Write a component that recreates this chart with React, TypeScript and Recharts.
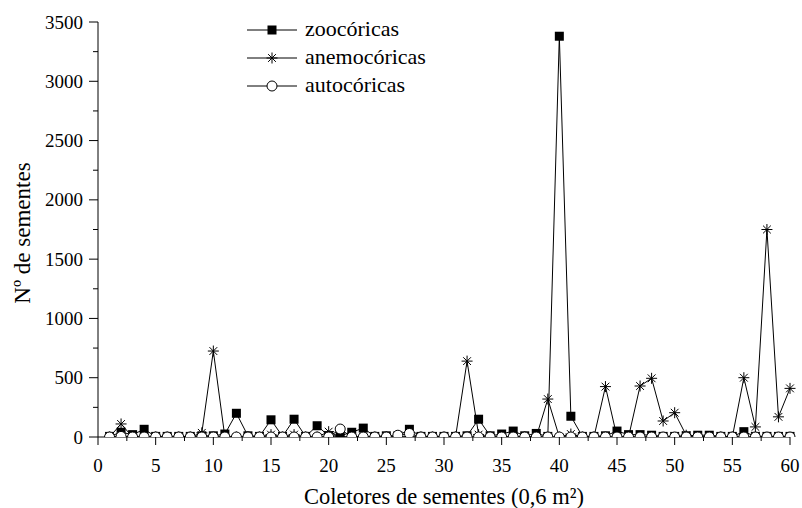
import { LineChart, Line, XAxis, YAxis, Legend } from 'recharts';

// collectors 1..60 and seeds per collector
const coletores = [
  1, 2, 3, 4, 5, 6, 7, 8, 9, 10, 11, 12, 13, 14, 15, 16, 17, 18, 19, 20,
  21, 22, 23, 24, 25, 26, 27, 28, 29, 30, 31, 32, 33, 34, 35, 36, 37, 38, 39, 40,
  41, 42, 43, 44, 45, 46, 47, 48, 49, 50, 51, 52, 53, 54, 55, 56, 57, 58, 59, 60,
];
const zoocoricas = [
  5, 40, 20, 65, 5, 5, 5, 5, 10, 10, 25, 200, 10, 5, 145, 5, 150, 5, 95, 10,
  10, 40, 75, 5, 10, 10, 65, 5, 5, 5, 5, 10, 150, 10, 25, 50, 10, 30, 5, 3380,
  175, 5, 5, 10, 50, 20, 20, 15, 5, 5, 10, 15, 15, 5, 5, 45, 5, 5, 5, 5,
];
const anemocoricas = [
  0, 110, 0, 0, 0, 0, 0, 0, 35, 725, 0, 0, 0, 0, 20, 0, 20, 0, 0, 45,
  0, 0, 0, 0, 0, 0, 0, 0, 0, 0, 0, 640, 20, 0, 0, 0, 0, 0, 320, 0,
  25, 0, 0, 425, 0, 0, 430, 495, 135, 205, 15, 0, 0, 0, 0, 500, 85, 1750, 170, 410,
];
const autocoricas = [
  0, 5, 0, 0, 0, 0, 0, 0, 0, 0, 0, 0, 0, 0, 0, 0, 0, 0, 0, 0,
  67, 0, 0, 0, 0, 15, 30, 0, 0, 0, 0, 0, 0, 0, 0, 0, 0, 0, 0, 0,
  0, 0, 0, 0, 0, 0, 0, 0, 0, 0, 0, 0, 0, 0, 0, 0, 0, 0, 0, 0,
];
const xTicks = [0, 2.5, 5, 7.5, 10, 12.5, 15, 17.5, 20, 22.5, 25, 27.5, 30, 32.5, 35, 37.5, 40, 42.5, 45, 47.5, 50, 52.5, 55, 57.5, 60];
const yTicks = [0, 250, 500, 750, 1000, 1250, 1500, 1750, 2000, 2250, 2500, 2750, 3000, 3250, 3500];
const seriesNames = ['zoocóricas', 'anemocóricas', 'autocóricas'];

const data = coletores.map((x, i) => ({
  x,
  zoo: zoocoricas[i],
  anemo: anemocoricas[i],
  auto: autocoricas[i],
}));

const FONT = '"Liberation Serif", "Times New Roman", Times, serif';

function Square({ cx, cy }: any) {
  if (cx == null || cy == null) return null;
  return <rect x={cx - 4.5} y={cy - 4.5} width={9} height={9} fill="#000" />;
}

function Star({ cx, cy }: any) {
  if (cx == null || cy == null) return null;
  const r = 5.5;
  const d = r * 0.707;
  return (
    <g stroke="#000" strokeWidth={1}>
      <line x1={cx} y1={cy - r} x2={cx} y2={cy + r} />
      <line x1={cx - r} y1={cy} x2={cx + r} y2={cy} />
      <line x1={cx - d} y1={cy - d} x2={cx + d} y2={cy + d} />
      <line x1={cx - d} y1={cy + d} x2={cx + d} y2={cy - d} />
    </g>
  );
}

function Ring({ cx, cy }: any) {
  if (cx == null || cy == null) return null;
  return <circle cx={cx} cy={cy} r={5} fill="#fff" stroke="#000" strokeWidth={1} />;
}

const markers = [Square, Star, Ring];

function XTick({ x, y, payload }: any) {
  const major = payload.value % 5 === 0;
  return (
    <g>
      <line x1={x} y1={y} x2={x} y2={y + (major ? 8 : 4)} stroke="#000" />
      {major && (
        <text x={x} y={y + 35} textAnchor="middle" fontSize={19} style={{ fontFamily: FONT }} fill="#000">
          {payload.value}
        </text>
      )}
    </g>
  );
}

function YTick({ x, y, payload }: any) {
  const major = payload.value % 500 === 0;
  return (
    <g>
      <line x1={x - (major ? 9 : 5)} y1={y} x2={x} y2={y} stroke="#000" />
      {major && (
        <text x={x - 15} y={y + 6.5} textAnchor="end" fontSize={19} style={{ fontFamily: FONT }} fill="#000">
          {payload.value}
        </text>
      )}
    </g>
  );
}

function LegendBox() {
  return (
    <svg width={220} height={90}>
      {seriesNames.map((name, i) => {
        const cy = 15 + 28 * i;
        const Mark = markers[i];
        return (
          <g key={name}>
            <line x1={7} y1={cy} x2={57} y2={cy} stroke="#000" />
            <Mark cx={32} cy={cy} />
            <text x={65} y={cy + 6} fontSize={22} style={{ fontFamily: FONT }} fill="#000">
              {name}
            </text>
          </g>
        );
      })}
    </svg>
  );
}

export default function App() {
  return (
    <div style={{ position: 'absolute', left: 0, top: 0, width: 802, height: 508, background: '#fff', fontFamily: FONT }}>
      <LineChart width={802} height={508} data={data} margin={{ top: 22, right: 12, left: 0, bottom: 0 }}>
        <XAxis
          type="number"
          dataKey="x"
          domain={[0, 60]}
          ticks={xTicks}
          interval={0}
          height={71}
          tickSize={0}
          tickMargin={0}
          tickLine={false}
          tick={<XTick />}
          axisLine={{ stroke: '#000' }}
          label={{
            content: () => (
              <text x={444} y={504} textAnchor="middle" fontSize={22.5} style={{ fontFamily: FONT }} fill="#000">
                Coletores de sementes (0,6 m²)
              </text>
            ),
          }}
        />
        <YAxis
          type="number"
          domain={[0, 3500]}
          ticks={yTicks}
          interval={0}
          allowDataOverflow
          width={98}
          tickSize={0}
          tickMargin={0}
          tickLine={false}
          tick={<YTick />}
          axisLine={{ stroke: '#000' }}
          label={{
            content: () => (
              <text
                x={30}
                y={233}
                textAnchor="middle"
                fontSize={23}
                style={{ fontFamily: FONT }}
                fill="#000"
                transform="rotate(-90, 30, 233)"
              >
                Nº de sementes
              </text>
            ),
          }}
        />
        <Legend
          layout="horizontal"
          verticalAlign="middle"
          align="center"
          content={() => <LegendBox />}
          wrapperStyle={{ position: 'absolute', left: 240, top: 15, width: 220, height: 90 }}
        />
        <Line
          dataKey="zoo"
          name={seriesNames[0]}
          stroke="#000"
          strokeWidth={1}
          dot={(p: any) => <Square key={`z${p.index}`} {...p} />}
          activeDot={false}
          isAnimationActive={false}
        />
        <Line
          dataKey="anemo"
          name={seriesNames[1]}
          stroke="#000"
          strokeWidth={1}
          dot={(p: any) => <Star key={`a${p.index}`} {...p} />}
          activeDot={false}
          isAnimationActive={false}
        />
        <Line
          dataKey="auto"
          name={seriesNames[2]}
          stroke="#000"
          strokeWidth={1}
          dot={(p: any) => <Ring key={`c${p.index}`} {...p} />}
          activeDot={false}
          isAnimationActive={false}
        />
      </LineChart>
    </div>
  );
}
